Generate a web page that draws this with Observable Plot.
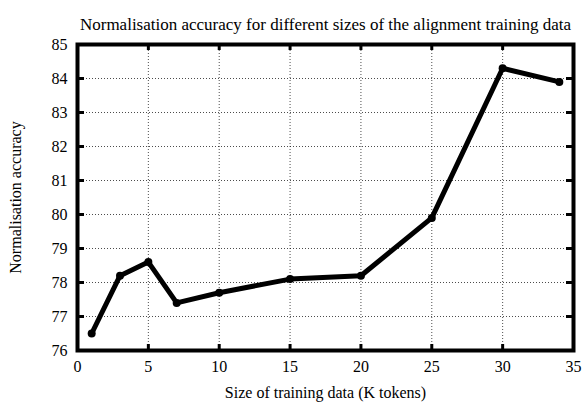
<!DOCTYPE html>
<html>
<head>
<meta charset="utf-8">
<script src="https://cdn.jsdelivr.net/npm/d3@7"></script>
<script src="https://cdn.jsdelivr.net/npm/@observablehq/plot@0.6"></script>
<style>
  html, body { margin: 0; padding: 0; background: #fff; }
  svg { display: block; }
</style>
</head>
<body>
<div id="chart"></div>
<script>
const sizes = [1, 3, 5, 7, 10, 15, 20, 25, 30, 34];
const accuracy = [76.5, 78.2, 78.6, 77.4, 77.7, 78.1, 78.2, 79.9, 84.3, 83.9];
const xTicks = [0, 5, 10, 15, 20, 25, 30, 35];
const yTicks = [76, 77, 78, 79, 80, 81, 82, 83, 84, 85];
const title = "Normalisation accuracy for different sizes of the alignment training data";
const xLabel = "Size of training data (K tokens)";
const yLabel = "Normalisation accuracy";

const data = sizes.map((s, i) => ({size: s, acc: accuracy[i]}));

const chart = Plot.plot({
  width: 584,
  height: 403,
  marginTop: 44,
  marginLeft: 77,
  marginRight: 11,
  marginBottom: 53,
  style: {fontFamily: "'Liberation Serif', 'DejaVu Serif', serif", fontSize: "16px", color: "#000", background: "#fff"},
  x: {domain: [0, 35], ticks: xTicks},
  y: {domain: [76, 85], ticks: yTicks},
  marks: [
    Plot.gridX(xTicks.slice(1, -1), {stroke: "#000", strokeOpacity: 0.7, strokeDasharray: "1,2", strokeWidth: 1}),
    Plot.gridY(yTicks.slice(1, -1), {stroke: "#000", strokeOpacity: 0.7, strokeDasharray: "1,2", strokeWidth: 1}),
    Plot.ruleX(xTicks, {x: d => d, insetTop: 300, stroke: "#000", strokeWidth: 3}),
    Plot.ruleX(xTicks, {x: d => d, insetBottom: 300, stroke: "#000", strokeWidth: 3}),
    Plot.ruleY(yTicks, {y: d => d, insetRight: 489, stroke: "#000", strokeWidth: 3}),
    Plot.ruleY(yTicks, {y: d => d, insetLeft: 489, stroke: "#000", strokeWidth: 3}),
    Plot.axisX({ticks: xTicks, tickSize: 0, tickPadding: 10, fontSize: 16, label: xLabel, labelAnchor: "center", labelOffset: 47, labelArrow: "none"}),
    Plot.axisY({ticks: yTicks, tickSize: 0, tickPadding: 10, fontSize: 16, label: yLabel, labelAnchor: "center", labelOffset: 68, labelArrow: "none"}),
    Plot.frame({stroke: "#000", strokeWidth: 4}),
    Plot.line(data, {x: "size", y: "acc", stroke: "#000", strokeWidth: 5, strokeLinejoin: "miter", strokeLinecap: "butt"}),
    Plot.dot(data, {x: "size", y: "acc", fill: "#000", r: 4}),
    Plot.text([title], {text: d => d, frameAnchor: "top", dy: -27, fontSize: 17, fill: "#000"})
  ]
});
document.getElementById("chart").appendChild(chart);
</script>
</body>
</html>
